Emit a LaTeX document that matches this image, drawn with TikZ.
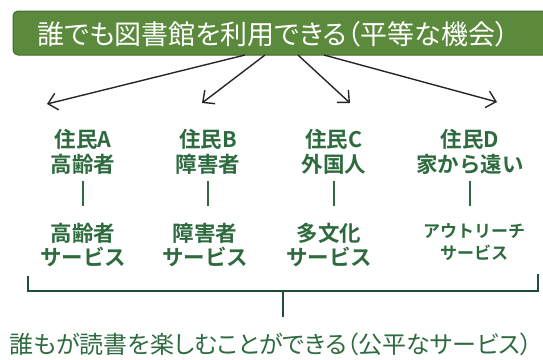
\documentclass[tikz,border=0pt]{standalone}
\usepackage{fontspec}
\setmainfont{Noto Sans CJK JP}[BoldFont={* Bold}]
\newfontfamily\paltfont{Noto Sans CJK JP}[BoldFont={* Bold},RawFeature=+palt]
\usetikzlibrary{arrows.meta}
\definecolor{bannergreen}{HTML}{5B8A3C}
\definecolor{bannerdark}{HTML}{3F6B2E}
\definecolor{txtgreen}{HTML}{2D6B3F}
\definecolor{brgreen}{HTML}{1F4F35}
\tikzset{
  lbl/.style={inner sep=0pt, align=center, text=txtgreen, font=\fontsize{21.5pt}{24.5pt}\selectfont\bfseries},
  smalllbl/.style={inner sep=0pt, align=center, text=txtgreen, font=\fontsize{17pt}{22pt}\selectfont\bfseries},
  arr/.style={draw=black!85, line width=1.4pt, -{Straight Barb[length=9pt,width=17pt,line width=1.4pt]}},
  tick/.style={draw=txtgreen, line width=1.8pt},
  brace/.style={draw=brgreen, line width=1.8pt}
}
\begin{document}
\begin{tikzpicture}[x=1pt,y=-1pt]
\useasboundingbox (0,0) rectangle (543,359);
\fill[white] (0,0) rectangle (543,359);
% banner
\draw[fill=bannergreen, draw=bannerdark, line width=1pt, rounded corners=5pt] (13,11) rectangle (560,55);
\node[inner sep=0pt, text=white, font=\paltfont\fontsize{27pt}{30pt}\selectfont] (top) at (273,34) {誰でも図書館を利用できる（平等な機会）};
% residents
\node[lbl] (ra) at (83,152) {住民A\\高齢者};
\node[lbl] (rb) at (208,152) {住民B\\障害者};
\node[lbl] (rc) at (334,152) {住民C\\外国人};
\node[lbl] (rd) at (470,152) {住民D\\家から遠い};
% services
\node[lbl] (sa) at (83,245) {高齢者\\サービス};
\node[lbl] (sb) at (205,245) {障害者\\サービス};
\node[lbl] (sc) at (329,245) {多文化\\サービス};
\node[smalllbl] (sd) at (474,242) {アウトリーチ\\サービス};
% arrows
\coordinate (a1) at (245,55); \coordinate (e1) at (47,104);
\coordinate (a2) at (265,55); \coordinate (e2) at (202,103);
\coordinate (a3) at (298,55); \coordinate (e3) at (350,103);
\coordinate (a4) at (324,55); \coordinate (e4) at (497,102);
\draw[arr] (a1) -- (e1);
\draw[arr] (a2) -- (e2);
\draw[arr] (a3) -- (e3);
\draw[arr] (a4) -- (e4);
% ticks
\draw[tick] (ra.south |- 0,181) -- (ra.south |- 0,206);
\draw[tick] (rb.south |- 0,181) -- (rb.south |- 0,206);
\draw[tick] (rc.south |- 0,181) -- (rc.south |- 0,206);
\draw[tick] (rd.south |- 0,181) -- (rd.south |- 0,206);
% bracket
\coordinate (bl) at (28,276); \coordinate (br) at (538,274);
\coordinate (bm) at (283,291); \coordinate (bs) at (283,317);
\draw[brace] (bl) -- (28,291) -- (538,291) -- (br);
\draw[brace] (bm) -- (bs);
% bottom
\node[inner sep=0pt, text=txtgreen, font=\paltfont\fontsize{24pt}{27pt}\selectfont] (bot) at (271,344) {誰もが読書を楽しむことができる（公平なサービス）};
\end{tikzpicture}
\end{document}
